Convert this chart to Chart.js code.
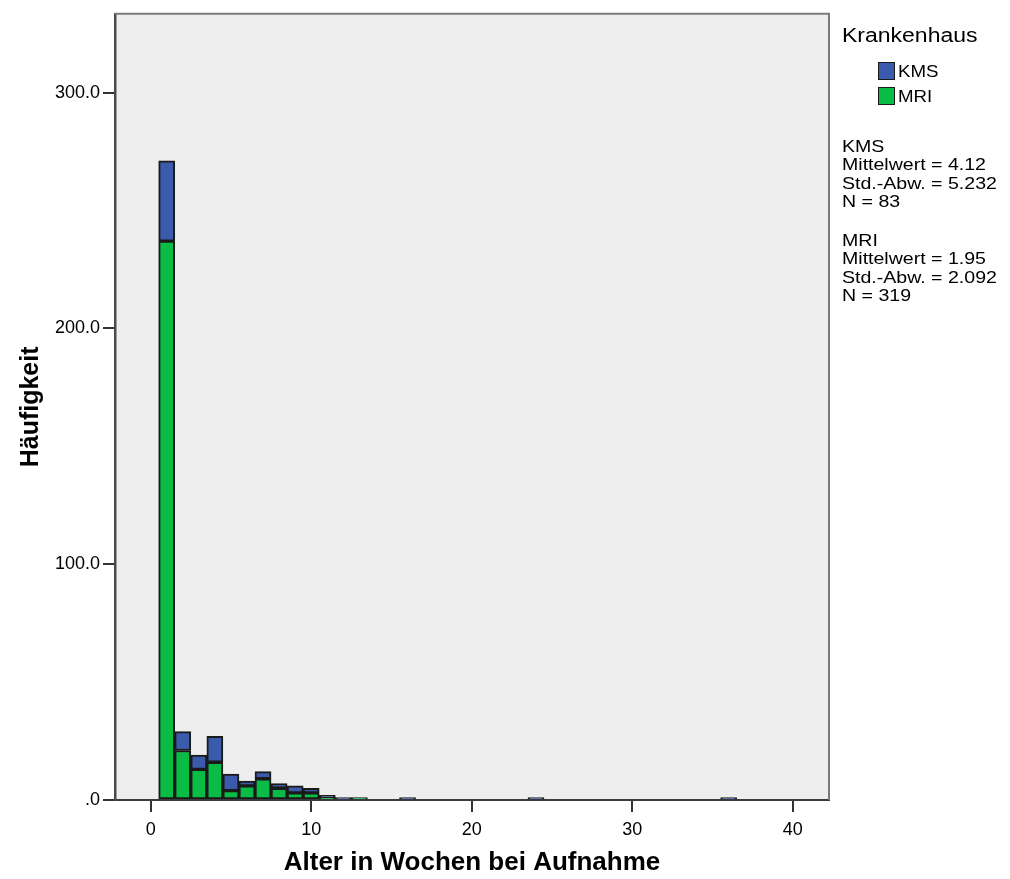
<!DOCTYPE html>
<html>
<head>
<meta charset="utf-8">
<script src="https://cdn.jsdelivr.net/npm/chart.js@4"></script>
<style>
  html, body { margin: 0; padding: 0; background: #ffffff; }
  #wrap { position: relative; width: 1010px; height: 879px; overflow: hidden; }
  canvas { position: absolute; left: 0; top: 0; }
  .t { position: absolute; font-family: "Liberation Sans", Arial, sans-serif; color: #000; white-space: nowrap; transform-origin: left center; transform: scaleX(1.15); }
  .box { position: absolute; width: 15px; height: 16px; border: 1.5px solid #1a1a1a; }
</style>
</head>
<body>
<div id="wrap">
  <canvas id="c" width="1010" height="879"></canvas>
  <div class="t" style="left:842px; top:25px; font-size:20px; line-height:20px;">Krankenhaus</div>
  <div class="box" style="left:878px; top:62px; background:#3A5BAC;"></div>
  <div class="t" style="left:898px; top:63px; font-size:17px; line-height:18px; transform:scaleX(1.1);">KMS</div>
  <div class="box" style="left:878px; top:87px; background:#08BC45;"></div>
  <div class="t" style="left:898px; top:88px; font-size:17px; line-height:18px; transform:scaleX(1.1);">MRI</div>
  <div id="stats"></div>
</div>
<script>
// ---- data ----
const binCenters = [1, 2, 3, 4, 5, 6, 7, 8, 9, 10, 11, 12, 13, 16, 24, 36];
const kmsCounts  = [34, 8, 6, 11, 7, 2, 3, 2, 3, 2, 1, 1, 0, 1, 1, 1];
const mriCounts  = [237, 21, 13, 16, 4, 6, 9, 5, 3, 3, 1, 0, 1, 0, 0, 0];
const seriesNames = ['KMS', 'MRI'];
const yTickValues = [0, 100, 200, 300];
const xTickValues = [0, 10, 20, 30, 40];
const statsKMS = ['KMS', 'Mittelwert = 4.12', 'Std.-Abw. = 5.232', 'N = 83'];
const statsMRI = ['MRI', 'Mittelwert = 1.95', 'Std.-Abw. = 2.092', 'N = 319'];

// stats text blocks
const statsDiv = document.getElementById('stats');
function addBlock(lines, top) {
  lines.forEach((s, i) => {
    const d = document.createElement('div');
    d.className = 't';
    d.style.left = '842px';
    d.style.top = (top + i * 18.5) + 'px';
    d.style.fontSize = '17px';
    d.style.lineHeight = '18.5px';
    d.textContent = s;
    statsDiv.appendChild(d);
  });
}
addBlock(statsKMS, 137.5);
addBlock(statsMRI, 231.5);

function toPoints(counts) {
  const pts = [];
  binCenters.forEach((x, i) => { if (counts[i] > 0) pts.push({ x: x, y: counts[i] }); });
  return pts;
}

const framePlugin = {
  id: 'frame',
  beforeDraw(chart) {
    const { ctx, chartArea: a } = chart;
    ctx.save();
    ctx.fillStyle = '#EEEEEE';
    ctx.fillRect(a.left, a.top, a.right - a.left, a.bottom - a.top);
    ctx.restore();
  },
  afterDraw(chart) {
    const { ctx, chartArea: a } = chart;
    ctx.save();
    ctx.strokeStyle = '#7a7a7a';
    ctx.lineWidth = 2;
    ctx.beginPath();
    ctx.moveTo(a.left, a.top);
    ctx.lineTo(a.right, a.top);
    ctx.lineTo(a.right, a.bottom);
    ctx.stroke();
    ctx.restore();
  }
};

new Chart(document.getElementById('c'), {
  type: 'bar',
  data: {
    datasets: [
      {
        label: seriesNames[1],
        data: toPoints(mriCounts),
        backgroundColor: '#08BC45',
        borderColor: '#1a1a1a',
        borderWidth: 2,
        borderSkipped: false,
        barPercentage: 1,
        categoryPercentage: 1
      },
      {
        label: seriesNames[0],
        data: toPoints(kmsCounts),
        backgroundColor: '#3A5BAC',
        borderColor: '#1a1a1a',
        borderWidth: 2,
        borderSkipped: false,
        barPercentage: 1,
        categoryPercentage: 1
      }
    ]
  },
  options: {
    responsive: false,
    animation: false,
    devicePixelRatio: 1,
    layout: { padding: { top: 12, right: 181, bottom: 0, left: 0 } },
    plugins: { legend: { display: false }, tooltip: { enabled: false } },
    scales: {
      x: {
        type: 'linear',
        stacked: true,
        offset: false,
        min: -2.22,
        max: 42.25,
        afterFit(scale) { scale.height = 79; },
        afterBuildTicks(scale) { scale.ticks = xTickValues.map(v => ({ value: v })); },
        ticks: {
          color: '#000',
          padding: 7,
          maxRotation: 0,
          font: { family: 'Liberation Sans', size: 18 }
        },
        grid: { offset: false, drawOnChartArea: false, drawTicks: true, tickLength: 12, color: '#333', lineWidth: 2 },
        border: { display: true, color: '#3c3c3c', width: 2 },
        title: {
          display: true,
          text: 'Alter in Wochen bei Aufnahme',
          color: '#000',
          font: { family: 'Liberation Sans', size: 26, weight: 'bold' },
          padding: { top: 0, bottom: 1 }
        }
      },
      y: {
        stacked: true,
        min: 0,
        max: 333.4,
        afterFit(scale) { scale.width = 115; },
        afterBuildTicks(scale) { scale.ticks = yTickValues.map(v => ({ value: v })); },
        ticks: {
          color: '#000',
          padding: 3,
          font: { family: 'Liberation Sans', size: 18 },
          callback: (v) => v === 0 ? '.0' : Number(v).toFixed(1)
        },
        grid: { drawOnChartArea: false, drawTicks: true, tickLength: 12, color: '#333', lineWidth: 2 },
        border: { display: true, color: '#4a4a4a', width: 2.5 },
        title: {
          display: true,
          text: 'Häufigkeit',
          color: '#000',
          font: { family: 'Liberation Sans', size: 25, weight: 'bold' },
          padding: { top: 16, bottom: 0 }
        }
      }
    }
  },
  plugins: [framePlugin]
});
</script>
</body>
</html>
